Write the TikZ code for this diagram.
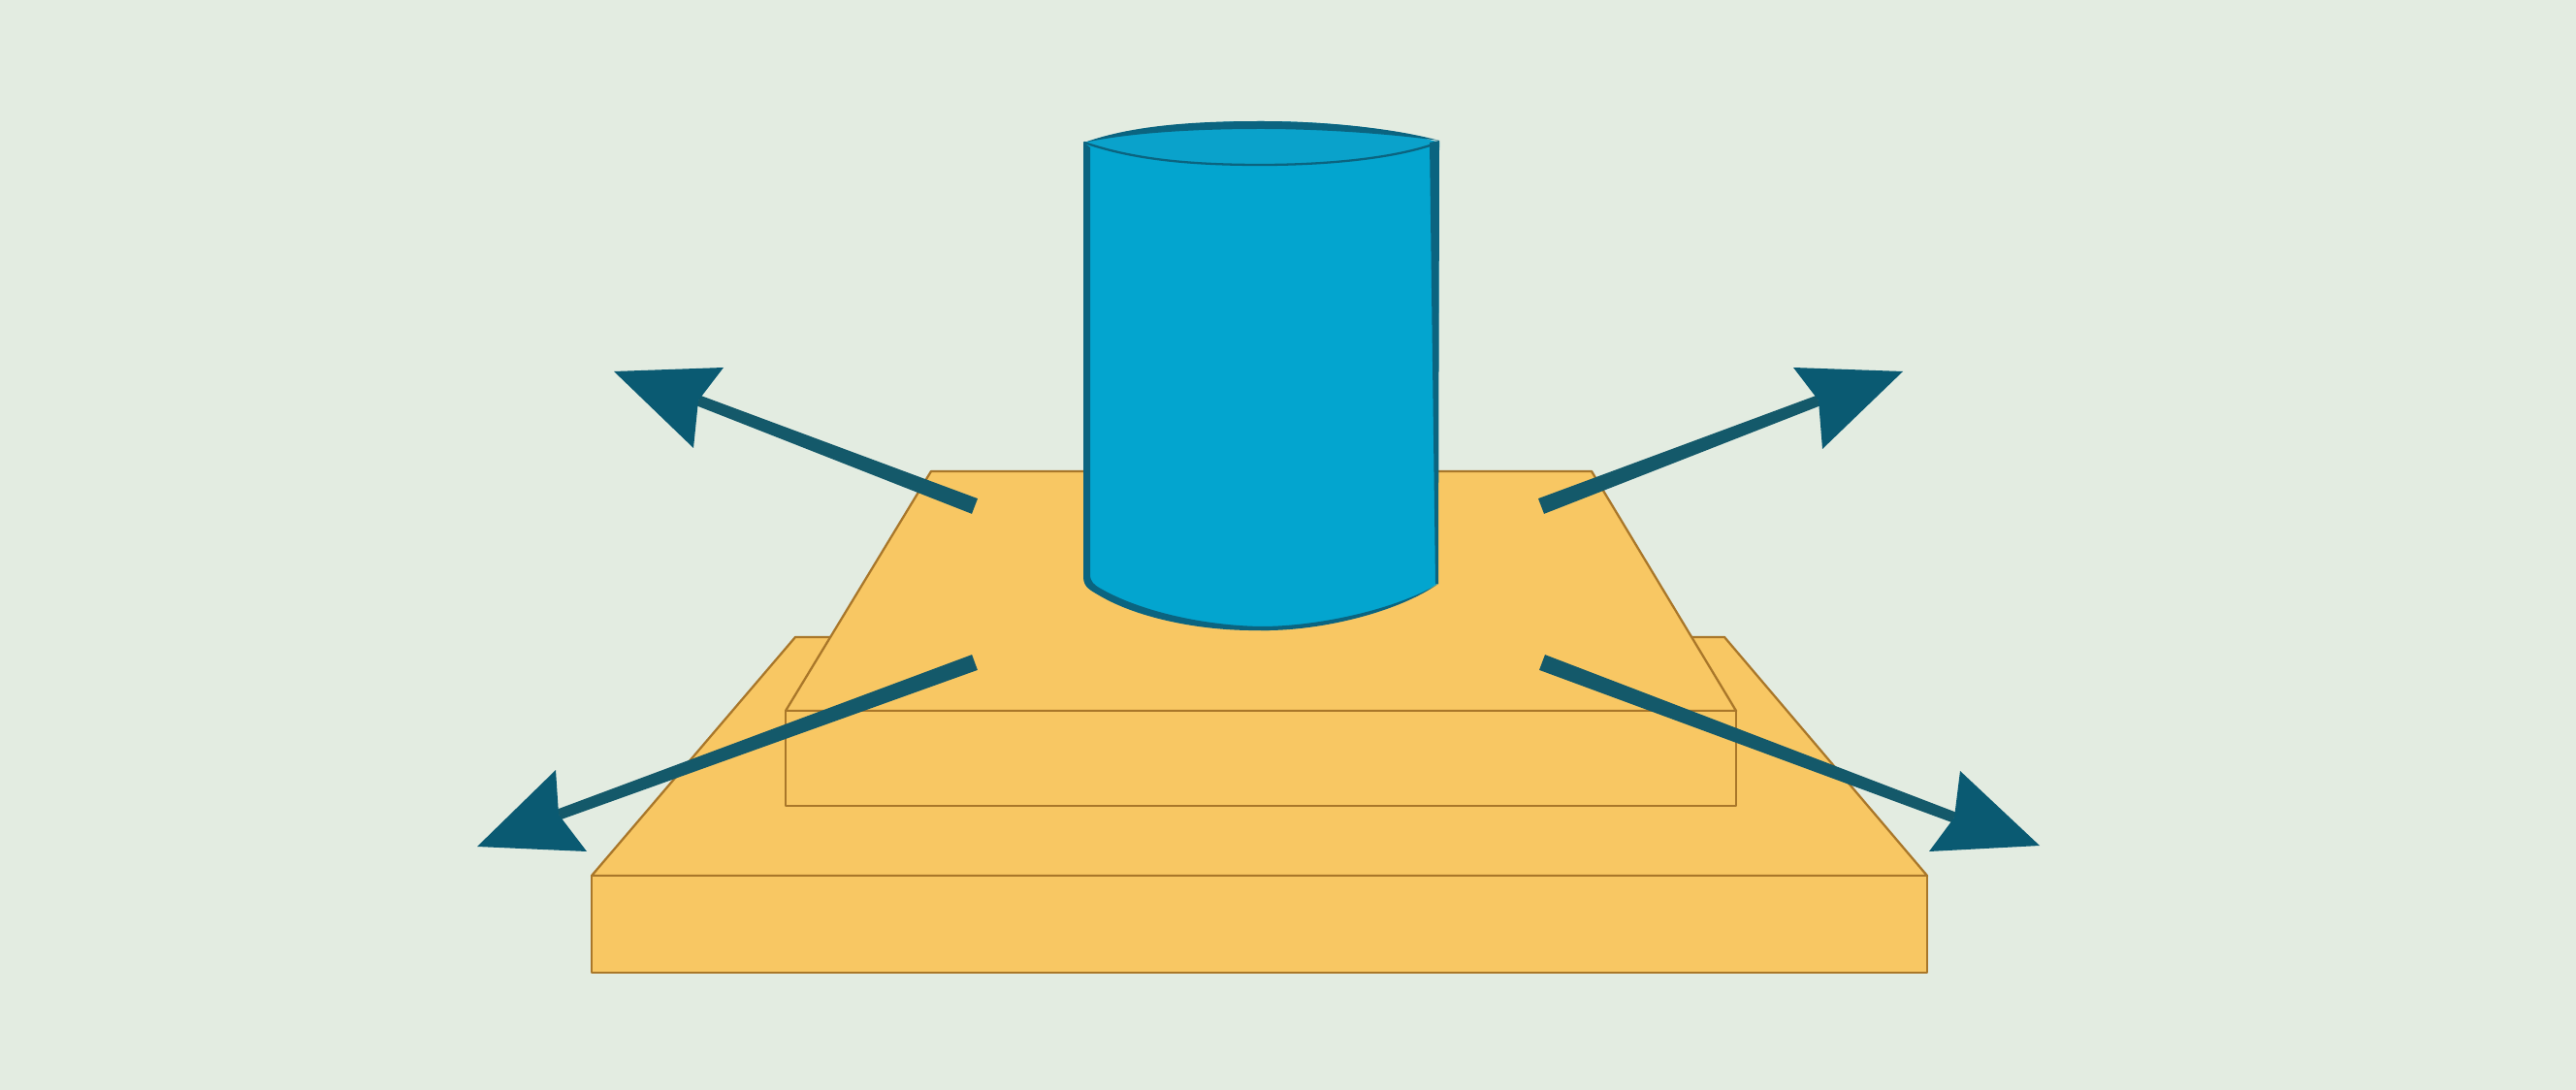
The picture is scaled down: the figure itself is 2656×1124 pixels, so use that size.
\documentclass[tikz,border=0pt]{standalone}
\usetikzlibrary{calc}
\definecolor{bgc}{HTML}{E3ECE1}
\definecolor{slab}{HTML}{F8C763}
\definecolor{slabline}{HTML}{A9772A}
\definecolor{cyl}{HTML}{03A5CF}
\definecolor{cyltop}{HTML}{0AA2CB}
\definecolor{cylline}{HTML}{0B6480}
\definecolor{arrowc}{HTML}{0A5A72}
\definecolor{shaftc}{HTML}{14596A}
\tikzset{
  slabface/.style={fill=slab,draw=slabline,line width=1.3pt,line join=round},
  cylface/.style={fill=cyl,draw=none},
  cylband/.style={fill=cylline,draw=none},
  cylstroke/.style={draw=cylline,line join=round,line cap=round},
  headfill/.style={fill=arrowc,draw=none},
  shaftbar/.style={fill=shaftc,draw=none}
}
\newcommand{\taper}[2]{%
  \path[shaftbar] ($(#1)!4.8pt!90:(#2)$) -- ($(#1)!4.8pt!-90:(#2)$)
    -- ($(#2)!3.2pt!90:(#1)$) -- ($(#2)!3.2pt!-90:(#1)$) -- cycle;}
\begin{document}
\begin{tikzpicture}[x=0.02cm,y=-0.02cm]
\useasboundingbox (0,0) rectangle (2656,1124);
\fill[bgc] (0,0) rectangle (2656,1124);
% lower slab
\path[slabface] (610,903) -- (820,657) -- (1778,657) -- (1987,903) -- cycle;
\path[slabface] (610,903) rectangle (1987,1003);
% upper slab
\path[slabface] (810,733) -- (960,486) -- (1641,486) -- (1790,733) -- cycle;
\path[slabface] (810,733) rectangle (1790,831);
% cylinder body
\path[cylface] (1118,147) -- (1118,595) .. controls (1118,605) and (1125,608) .. (1135,614)
  .. controls (1175,637) and (1240,650) .. (1300,649)
  .. controls (1360,650) and (1440,630) .. (1482,602) -- (1484,147) -- cycle;
\path[cylface,fill=cyltop] (1118,147) .. controls (1170,130) and (1240,125) .. (1300,125)
  .. controls (1370,125) and (1440,133) .. (1484,147)
  .. controls (1440,163) and (1370,170) .. (1300,170)
  .. controls (1230,170) and (1170,165) .. (1118,147) -- cycle;
% left side and lower rim
\path[cylband] (1117,147) -- (1117,595) .. controls (1117,606) and (1125,609) .. (1135,615)
  .. controls (1175,638) and (1240,651) .. (1300,650)
  -- (1310,650) -- (1310,646) -- (1300,646)
  .. controls (1240,645) and (1175,630) .. (1135,607)
  .. controls (1128,603) and (1124,600) .. (1124,592) -- (1124,152) -- cycle;
% right side
\path[cylband] (1474,147) -- (1484,145) -- (1483,602) -- (1480,602) -- cycle;
% lower rim, right part
\path[cylband] (1300,650) .. controls (1360,651) and (1440,632) .. (1483,602)
  .. controls (1440,628) and (1360,646) .. (1300,646) -- cycle;
% top rim
\path[cylband] (1118,147) .. controls (1170,128) and (1240,125) .. (1300,125)
  .. controls (1370,125) and (1440,133) .. (1484,145)
  .. controls (1440,139) and (1370,133) .. (1300,133)
  .. controls (1240,133) and (1170,136) .. (1118,147) -- cycle;
\draw[cylstroke,line width=1.3pt] (1483,147) .. controls (1440,163) and (1370,170) .. (1300,170)
  .. controls (1230,170) and (1170,165) .. (1118,147);
% arrows
\coordinate (ulTail) at (1005,522); \coordinate (ulNotch) at (720,413);
\coordinate (urTail) at (1589,522); \coordinate (urNotch) at (1875,413);
\coordinate (llTail) at (1005,683); \coordinate (llNotch) at (576,840);
\coordinate (lrTail) at (1590,683); \coordinate (lrNotch) at (2015,843);
\taper{ulTail}{ulNotch}
\taper{urTail}{urNotch}
\taper{llTail}{llNotch}
\taper{lrTail}{lrNotch}
\path[headfill] (633,383) -- (746,379) -- (ulNotch) -- (715,462) -- cycle;
\path[headfill] (1962,383) -- (1849,379) -- (urNotch) -- (1879,463) -- cycle;
\path[headfill] (492,873) -- (573,794) -- (llNotch) -- (605,878) -- cycle;
\path[headfill] (2103,872) -- (2021,795) -- (lrNotch) -- (1989,878) -- cycle;
\end{tikzpicture}
\end{document}
